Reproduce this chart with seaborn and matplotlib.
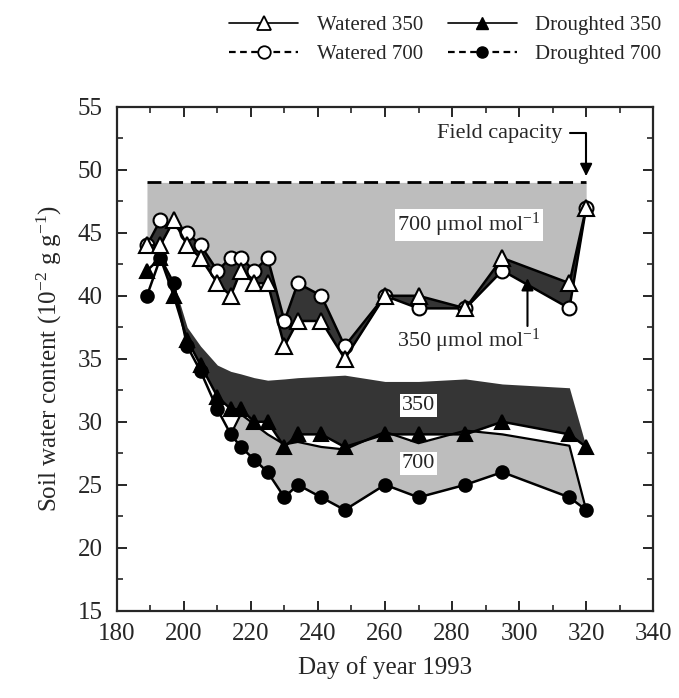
import numpy as np
import matplotlib
matplotlib.use("Agg")
import matplotlib.pyplot as plt
from matplotlib.lines import Line2D
from matplotlib.ticker import MultipleLocator
import seaborn as sns

# Sampling days (day of year 1993)
days = [189, 193, 197, 201, 205, 210, 214, 217, 221, 225, 230, 234, 241, 248,
        260, 270, 284, 295, 315, 320]
days_w700 = [189, 193, 201, 205, 210, 214, 217, 221, 225, 230, 234, 241, 248,
             260, 270, 284, 295, 315, 320]

# Soil water content (10^-2 g g^-1)
watered_350 = [44, 44, 46, 44, 43, 41, 40, 42, 41, 41, 36, 38, 38, 35,
               40, 40, 39, 43, 41, 47]
watered_700 = [44, 46, 45, 44, 42, 43, 43, 42, 43, 38, 41, 40, 36,
               40, 39, 39, 42, 39, 47]
droughted_350 = [42, 43, 40, 36.5, 34.5, 32, 31, 31, 30, 30, 28, 29, 29, 28,
                 29, 29, 29, 30, 29, 28]
droughted_700 = [40, 43, 41, 36, 34, 31, 29, 28, 27, 26, 24, 25, 24, 23,
                 25, 24, 25, 26, 24, 23]

field_capacity = 49

# Upper edge of the shaded "350" band in the droughted pots
band_350_top = [42, 43, 41, 37.5, 36, 34.5, 34, 33.8, 33.5, 33.3, 33.4, 33.5, 33.6, 33.7,
                33.2, 33.2, 33.4, 33.0, 32.7, 28]
# Upper edge of the shaded "700" band in the droughted pots
band_700_days = [214, 217, 221, 225, 230, 234, 241, 248, 260, 270, 284, 295, 315, 320]
band_700_top = [29, 30.6, 29.8, 29.0, 28.2, 28.4, 28.0, 27.8, 29.2, 28.3, 29.3, 29.0, 28.1, 23]

x_ticks = [180, 200, 220, 240, 260, 280, 300, 320, 340]
y_ticks = [15, 20, 25, 30, 35, 40, 45, 50, 55]

LIGHT = "#bdbdbd"
DARK = "#353535"

sns.set_style("ticks")
plt.rcParams["font.family"] = ["Liberation Serif", "DejaVu Serif"]
plt.rcParams.update({
    "mathtext.fontset": "custom",
    "mathtext.rm": "Liberation Serif",
    "mathtext.it": "Liberation Serif:italic",
    "xtick.direction": "in",
    "ytick.direction": "in",
    "xtick.top": True,
    "ytick.right": True,
    "axes.linewidth": 1.6,
    "xtick.major.width": 1.4,
    "ytick.major.width": 1.4,
    "xtick.minor.width": 1.2,
    "ytick.minor.width": 1.2,
    "xtick.major.size": 7,
    "ytick.major.size": 7,
    "xtick.minor.size": 4,
    "ytick.minor.size": 4,
})

fig = plt.figure(figsize=(6.79, 6.98), dpi=100)
ax = fig.add_axes([0.172, 0.125, 0.79, 0.722])

# ---- shaded areas, watered pots ----
w700_grid = np.interp(days, days_w700, watered_700)
upper_watered = np.maximum(watered_350, w700_grid)
ax.fill_between(days, field_capacity, upper_watered, color=LIGHT, lw=0, zorder=1)
ax.fill_between(days, watered_350, w700_grid, color=DARK, lw=0, zorder=1)

# ---- shaded areas, droughted pots ----
ax.fill_between(days, droughted_350, band_350_top, color=DARK, lw=0, zorder=1)
d700_sub = [droughted_700[days.index(d)] for d in band_700_days]
ax.fill_between(band_700_days, d700_sub, band_700_top, color=LIGHT, lw=0, zorder=1.2)
ax.plot(band_700_days, band_700_top, color="black", lw=1.6, zorder=2)

# ---- field capacity ----
ax.plot([days[0], days[-1]], [field_capacity, field_capacity], color="black",
        lw=2, dashes=(5, 2.8), zorder=2)

# ---- data series ----
common = dict(ax=ax, color="black", linewidth=1.8, estimator=None, sort=False,
              markeredgecolor="black", markeredgewidth=1.5)
sns.lineplot(x=days, y=droughted_700, marker="o", markersize=9,
             markerfacecolor="black", zorder=3, **common)
sns.lineplot(x=days, y=droughted_350, marker="^", markersize=10,
             markerfacecolor="black", zorder=4, **common)
sns.lineplot(x=days_w700, y=watered_700, marker="o", markersize=10,
             markerfacecolor="white", zorder=5, **common)
sns.lineplot(x=days, y=watered_350, marker="^", markersize=11,
             markerfacecolor="white", zorder=6, **common)

# ---- annotations ----
box = dict(facecolor="white", edgecolor="none", pad=1.5)
ax.text(285, 45.6, "700 \u03bcmol mol$^{-1}$", ha="center", va="center",
        fontsize=16, bbox=box, zorder=7)
ax.text(285, 36.4, "350 \u03bcmol mol$^{-1}$", ha="center", va="center",
        fontsize=16, zorder=7)
ax.text(270, 31.3, "350", ha="center", va="center", fontsize=16, bbox=box, zorder=7)
ax.text(270, 26.7, "700", ha="center", va="center", fontsize=16, bbox=box, zorder=7)

ax.annotate("", xy=(302.5, 41.4), xytext=(302.5, 37.6),
            arrowprops=dict(arrowstyle="-|>", color="black", lw=1.5,
                            mutation_scale=18, shrinkA=0, shrinkB=0), zorder=8)
ax.annotate("Field capacity", xy=(320, 49.5), xytext=(313, 52.9),
            ha="right", va="center", fontsize=16,
            arrowprops=dict(arrowstyle="-|>", color="black", lw=1.5,
                            mutation_scale=18, shrinkA=3, shrinkB=0,
                            connectionstyle="angle,angleA=0,angleB=90,rad=0"),
            zorder=8)

# ---- axes ----
ax.set_xlim(180, 340)
ax.set_ylim(15, 55)
ax.set_xticks(x_ticks)
ax.set_yticks(y_ticks)
ax.xaxis.set_minor_locator(MultipleLocator(10))
ax.yaxis.set_minor_locator(MultipleLocator(2.5))
ax.tick_params(which="both", top=True, right=True, labelsize=18)
ax.tick_params(axis="x", which="major", pad=9)
ax.tick_params(axis="y", which="major", pad=10)
ax.set_xlabel("Day of year 1993", fontsize=18, labelpad=8)
ax.set_ylabel("Soil water content (10$^{-2}$ g g$^{-1}$)", fontsize=18, labelpad=10)

# ---- legend ----
handles = [
    Line2D([], [], color="black", lw=1.2, ls="-", marker="^", ms=10,
           mfc="white", mec="black", mew=1.3),
    Line2D([], [], color="black", lw=1.6, ls=(0, (3, 2)), marker="o", ms=9,
           mfc="white", mec="black", mew=1.3),
    Line2D([], [], color="black", lw=1.2, ls="-", marker="^", ms=9,
           mfc="black", mec="black"),
    Line2D([], [], color="black", lw=1.6, ls=(0, (3, 2)), marker="o", ms=8,
           mfc="black", mec="black"),
]
labels = ["Watered 350", "Watered 700", "Droughted 350", "Droughted 700"]
fig.legend(handles, labels, loc="upper left", bbox_to_anchor=(0.31, 1.005),
           ncol=2, frameon=False, fontsize=15, handlelength=3.3,
           handletextpad=0.9, columnspacing=1.2, labelspacing=0.45)

fig.savefig("out.png", dpi=100)
